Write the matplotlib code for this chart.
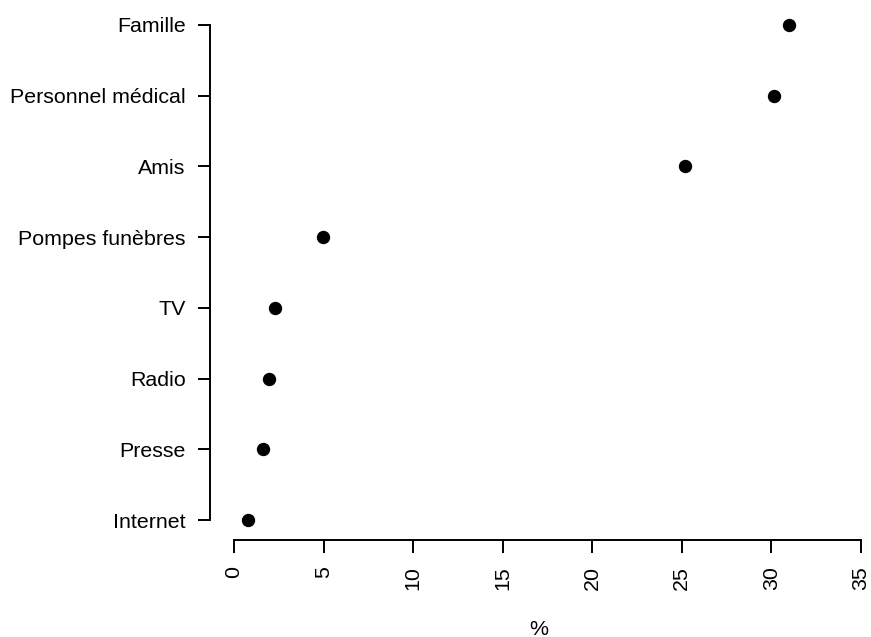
import matplotlib
matplotlib.use("Agg")
import matplotlib.pyplot as plt

# sources d'information, du bas vers le haut
categories = ["Internet", "Presse", "Radio", "TV", "Pompes funèbres",
              "Amis", "Personnel médical", "Famille"]
values = [0.78, 1.60, 1.94, 2.27, 4.95, 25.2, 30.15, 31.0]
xticks = [0, 5, 10, 15, 20, 25, 30, 35]

plt.rcParams["font.family"] = ["Liberation Sans", "DejaVu Sans"]

W, H = 871, 637
fig = plt.figure(figsize=(W / 100, H / 100), dpi=100)

# axes en pixels : gauche 210, bas 540
left, right, bottom, top = 210, 868, 540, 8
ax = fig.add_axes([left / W, 1 - bottom / H, (right - left) / W, (bottom - top) / H])

ypos = list(range(1, len(categories) + 1))
ax.plot(values, ypos, "o", color="black", ms=8.6, ls="none", clip_on=False)

# 0 -> px 234, 35 -> px 861
ppu = (861 - 234) / 35
ax.set_xlim(-(234 - left) / ppu, 35 + (right - 861) / ppu)
# Internet -> px 520, Famille -> px 25
ppy = (520 - 25) / 7
ax.set_ylim(1 - (bottom - 520) / ppy, 8 + (25 - top) / ppy)

for s in ["top", "right"]:
    ax.spines[s].set_visible(False)
ax.spines["left"].set_bounds(1, 8)
ax.spines["bottom"].set_bounds(0, 35)
for s in ["left", "bottom"]:
    ax.spines[s].set_linewidth(1.4)

ax.set_yticks(ypos)
ax.set_yticklabels(categories, fontsize=15.4)
ax.set_xticks(xticks)
ax.set_xticklabels([str(t) for t in xticks], fontsize=15.4, rotation=90)
ax.tick_params(axis="y", length=8.6, width=1.4, pad=9)
ax.tick_params(axis="x", length=9, width=1.4, pad=10)

ax.set_xlabel("%", fontsize=15.4, labelpad=21)

fig.savefig("out.png", dpi=100)
